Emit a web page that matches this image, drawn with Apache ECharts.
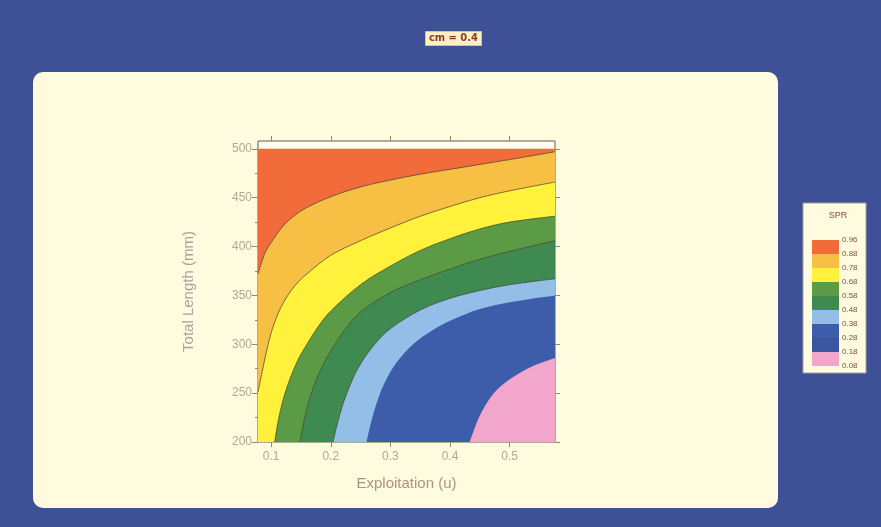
<!DOCTYPE html>
<html><head><meta charset="utf-8">
<script src="https://cdn.jsdelivr.net/npm/echarts@6/dist/echarts.min.js"></script>
<style>html,body{margin:0;padding:0;background:#3e5096;}#c{width:881px;height:527px;}</style>
</head><body><div id="c"></div>
<script>
// ---- data ----
const xTicks = [0.1, 0.2, 0.3, 0.4, 0.5];
const xTickLabels = ['0.1', '0.2', '0.3', '0.4', '0.5'];
const yTicks = [200, 250, 300, 350, 400, 450, 500];
const yMinorTicks = [225, 275, 325, 375, 425, 475];
const levels = ['0.96', '0.88', '0.78', '0.68', '0.58', '0.48', '0.38', '0.28', '0.18', '0.08'];
// contour boundaries [exploitation u, total length mm]
const topEdge = [[0.078, 500], [0.576, 500]];
const c088 = [[0.078,372],[0.09,394],[0.1,404],[0.12,421],[0.14,432],[0.16,440],[0.2,451],[0.25,461],[0.3,468],[0.35,474],[0.4,479],[0.45,484],[0.5,489],[0.576,497]];
const c078 = [[0.078,251],[0.085,272],[0.095,300],[0.105,321],[0.12,342],[0.14,360],[0.16,372],[0.2,391],[0.25,406],[0.3,419],[0.35,431],[0.4,441],[0.45,450],[0.5,457],[0.576,466]];
const c068 = [[0.106,200],[0.112,222],[0.12,243],[0.13,262],[0.145,284],[0.16,300],[0.18,319],[0.2,334],[0.25,361],[0.3,380],[0.35,396],[0.4,408],[0.45,418],[0.5,425],[0.576,431]];
const c058 = [[0.1485,200],[0.155,221],[0.165,245],[0.18,270],[0.2,293],[0.225,316],[0.25,333],[0.3,353],[0.35,366],[0.4,377],[0.45,387],[0.5,395],[0.576,406]];
const c048 = [[0.204,200],[0.21,216],[0.22,238],[0.235,262],[0.25,280],[0.275,301],[0.3,316],[0.35,335],[0.4,347],[0.45,355],[0.5,361],[0.576,367]];
const c038 = [[0.26,200],[0.266,216],[0.276,238],[0.29,260],[0.31,281],[0.34,301],[0.37,314],[0.4,324],[0.45,336],[0.5,343],[0.576,350]];
const c018 = [[0.433,200],[0.44,212],[0.45,227],[0.465,243],[0.483,256],[0.51,268],[0.54,278],[0.576,286]];
const bands = [topEdge, c088, c078, c068, c058, c048, c038, c018];
const bandColors = ['#f26b3a', '#f8bf45', '#fff13c', '#5c9b45', '#3f8a50', '#93bee8', '#3d5dab', '#f2a6cc'];
const bandLines = [false, true, true, true, true, true, false, false];
// legend swatches top→bottom
const legendColors = ['#f26b3a', '#f8bf45', '#fff13c', '#5c9b45', '#3f8a50', '#93bee8', '#3d5dab', '#3a56a0', '#f2a6cc'];

const chart = echarts.init(document.getElementById('c'), null, {renderer: 'canvas'});
const font = 'Liberation Sans, Arial, sans-serif';
const tickCol = '#b3a98c';

const contourSeries = bands.map((d, i) => ({
  type: 'line', data: d, xAxisIndex: 0, yAxisIndex: 0,
  symbol: 'none', smooth: 0.35, clip: true,
  lineStyle: bandLines[i] ? {color: '#4a4a30', width: 1, opacity: 0.75} : {width: 0},
  areaStyle: {color: bandColors[i], opacity: 1, origin: 'start'},
  z: 2 + i, silent: true
}));

const legendSeries = legendColors.slice().reverse().map(c => ({
  type: 'bar', xAxisIndex: 2, yAxisIndex: 3, stack: 'leg', data: [1],
  barWidth: '100%', itemStyle: {color: c}, silent: true
}));

chart.setOption({
  backgroundColor: '#3e5096',
  animation: false,
  title: {
    text: 'cm = 0.4', left: 425, top: 31, padding: [2, 4],
    backgroundColor: '#fcf1c2', borderColor: '#d6c48a', borderWidth: 1,
    textStyle: {fontSize: 11, color: '#8b3b2b', fontWeight: 'bold', fontFamily: 'Liberation Sans Narrow, DejaVu Sans Condensed, sans-serif'}
  },
  graphic: [
    {type: 'rect', z: -10, shape: {x: 33, y: 72, width: 745, height: 436, r: 10}, style: {fill: '#fffbdf'}},
    {type: 'rect', z: -10, shape: {x: 803, y: 203, width: 63, height: 170}, style: {fill: '#fffbdf', stroke: '#a0a0a0', lineWidth: 1}},
    {type: 'text', z: 10, style: {x: 838, y: 211, text: 'SPR', fontSize: 9, fill: '#8a4a40', align: 'center', fontFamily: font}}
  ],
  grid: [
    {left: 258, top: 141, width: 297, height: 301, show: true, backgroundColor: '#fffef0', borderColor: '#5e5e50', borderWidth: 1},
    {left: 812, top: 240, width: 27, height: 126}
  ],
  xAxis: [
    {type: 'value', gridIndex: 0, min: 0.078, max: 0.576, position: 'bottom',
     name: 'Exploitation (u)', nameLocation: 'middle', nameGap: 34,
     nameTextStyle: {fontSize: 15, color: '#ab947f', fontFamily: font},
     axisLine: {show: false}, splitLine: {show: false},
     axisTick: {show: true, inside: false, length: 5, customValues: xTicks, lineStyle: {color: '#8a8a7a'}},
     axisLabel: {customValues: xTicks, formatter: v => xTickLabels[xTicks.findIndex(t => Math.abs(t - v) < 1e-6)], fontSize: 12, color: tickCol, margin: 9, fontFamily: font}},
    {type: 'value', gridIndex: 0, min: 0.078, max: 0.576, position: 'top',
     axisLine: {show: false}, splitLine: {show: false}, axisLabel: {show: false},
     axisTick: {show: true, length: 5, customValues: xTicks, lineStyle: {color: '#8a8a7a'}}},
    {type: 'category', gridIndex: 1, data: ['SPR'], show: false}
  ],
  yAxis: [
    {type: 'value', gridIndex: 0, min: 200, max: 508, position: 'left',
     name: 'Total Length (mm)', nameLocation: 'middle', nameGap: 62,
     nameTextStyle: {fontSize: 15, color: '#a8a39b', fontFamily: font},
     axisLine: {show: false}, splitLine: {show: false},
     axisTick: {show: true, length: 6, customValues: yTicks, lineStyle: {color: '#8a8a7a'}},
     axisLabel: {customValues: yTicks, fontSize: 12, color: tickCol, margin: 6, fontFamily: font}},
    {type: 'value', gridIndex: 0, min: 200, max: 508, position: 'left', offset: 0,
     axisLine: {show: false}, splitLine: {show: false}, axisLabel: {show: false},
     axisTick: {show: true, length: 3, customValues: yMinorTicks, lineStyle: {color: '#8a8a7a'}}},
    {type: 'value', gridIndex: 0, min: 200, max: 508, position: 'right', offset: 0,
     axisLine: {show: false}, splitLine: {show: false}, axisLabel: {show: false},
     axisTick: {show: true, length: 5, customValues: yTicks, lineStyle: {color: '#8a8a7a'}}},
    {type: 'value', gridIndex: 1, min: 0, max: 9, position: 'right',
     axisLine: {show: false}, splitLine: {show: false}, axisTick: {show: false},
     axisLabel: {customValues: [0,1,2,3,4,5,6,7,8,9], formatter: v => levels[9 - Math.round(v)], fontSize: 8, color: '#7a5048', margin: 3, fontFamily: font}}
  ],
  series: contourSeries.concat(legendSeries)
});
</script></body></html>
